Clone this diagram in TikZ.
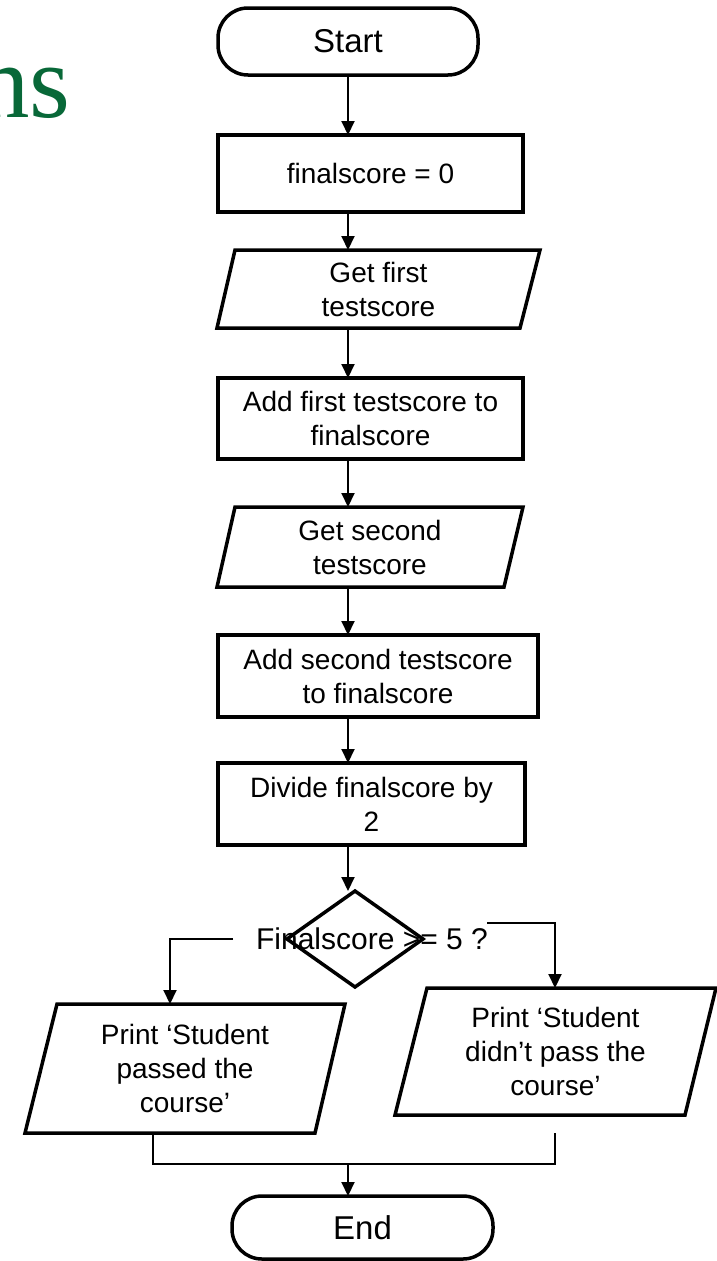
\documentclass[tikz,border=0pt]{standalone}
\usepackage{fontspec}
\setmainfont{Liberation Sans}
\newfontfamily\titleserif{Liberation Serif}
\usetikzlibrary{arrows.meta,calc}
\definecolor{titlegreen}{RGB}{8,104,56}
\begin{document}
\begin{tikzpicture}[x=1pt,y=-1pt,
  txt/.style={outer sep=0pt, inner sep=0pt, align=center, font=\fontsize{28pt}{34pt}\selectfont},
  box/.style={txt, draw, line width=3.5pt},
  term/.style={box, rounded corners=30pt, font=\fontsize{33pt}{38pt}\selectfont},
  conn/.style={line width=2pt},
  arr/.style={conn, -{Triangle[length=14pt,width=13pt]}},
  outline/.style={line width=3.5pt, line join=miter}
]
\useasboundingbox (0,0) rectangle (716,1261);

% partial title
\node[anchor=base east, inner sep=0pt, text=titlegreen, font=\titleserif\fontsize{105pt}{105pt}\selectfont] (title) at (71,117) {ns};

% nodes
\node[term, minimum width=260pt, minimum height=67pt] (start) at (348,41.5) {Start};
\node[box, minimum width=305pt, minimum height=77pt] (init) at (370.5,173.5) {finalscore = 0};
\node[txt, minimum width=323pt, minimum height=78pt] (get1) at (378.5,289) {Get first\\testscore};
\node[box, minimum width=305pt, minimum height=81pt] (add1) at (370.5,418.5) {Add first testscore to\\finalscore};
\node[txt, minimum width=306pt, minimum height=80pt] (get2) at (370,547) {Get second\\testscore};
\node[box, minimum width=320pt, minimum height=82pt] (add2) at (378,676) {Add second testscore\\to finalscore};
\node[box, minimum width=307pt, minimum height=82pt] (div) at (371.5,804) {Divide finalscore by\\2};
\node[txt, minimum width=136pt, minimum height=96pt] (dec) at (355,939) {};
\node[txt, minimum width=320pt, minimum height=129pt] (yes) at (185,1068.5) {Print ‘Student\\passed the\\course’};
\node[txt, minimum width=321pt, minimum height=127pt] (no) at (555.5,1051.5) {Print ‘Student\\didn’t pass the\\course’};
\node[term, minimum width=261pt, minimum height=63pt] (end) at (362.5,1227.5) {End};

% parallelogram and diamond outlines
\draw[outline] ($(get1.north west)+(18,0)$) -- (get1.north east) -- ($(get1.south east)+(-20,0)$) -- (get1.south west) -- cycle;
\draw[outline] ($(get2.north west)+(18,0)$) -- (get2.north east) -- ($(get2.south east)+(-19,0)$) -- (get2.south west) -- cycle;
\draw[outline] ($(yes.north west)+(32,0)$) -- (yes.north east) -- ($(yes.south east)+(-30,0)$) -- (yes.south west) -- cycle;
\draw[outline] ($(no.north west)+(32,0)$) -- (no.north east) -- ($(no.south east)+(-31,0)$) -- (no.south west) -- cycle;
\draw[outline] (dec.north) -- (dec.east) -- (dec.south) -- (dec.west) -- cycle;
\node[txt, font=\fontsize{30pt}{36pt}\selectfont] (dectext) at (372,939) {Finalscore >= 5 ?};

% main column connectors
\draw[arr] (start.south) -- (start.south |- init.north);
\draw[arr] (init.south -| start) -- (get1.north -| start);
\draw[arr] (get1.south -| start) -- (add1.north -| start);
\draw[arr] (add1.south -| start) -- (get2.north -| start);
\draw[arr] (get2.south -| start) -- (add2.north -| start);
\draw[arr] (add2.south -| start) -- (div.north -| start);
\draw[arr] (div.south -| start) -- (dec.north -| start);

% branches
\coordinate (lb) at (233,939);
\coordinate (lc) at (170,939);
\draw[arr] (lb) -- (lc) -- (lc |- yes.north);
\coordinate (rb) at (487,923);
\coordinate (rc) at (555,923);
\draw[arr] (rb) -- (rc) -- (rc |- no.north);

% merge
\coordinate (mx) at (153,1164);
\coordinate (nx) at (555,1133);
\draw[conn] (yes.south -| mx) -- (mx) -- (mx -| nx) -- (nx);
\draw[arr] (start |- mx) -- (start |- end.north);
\end{tikzpicture}
\end{document}
